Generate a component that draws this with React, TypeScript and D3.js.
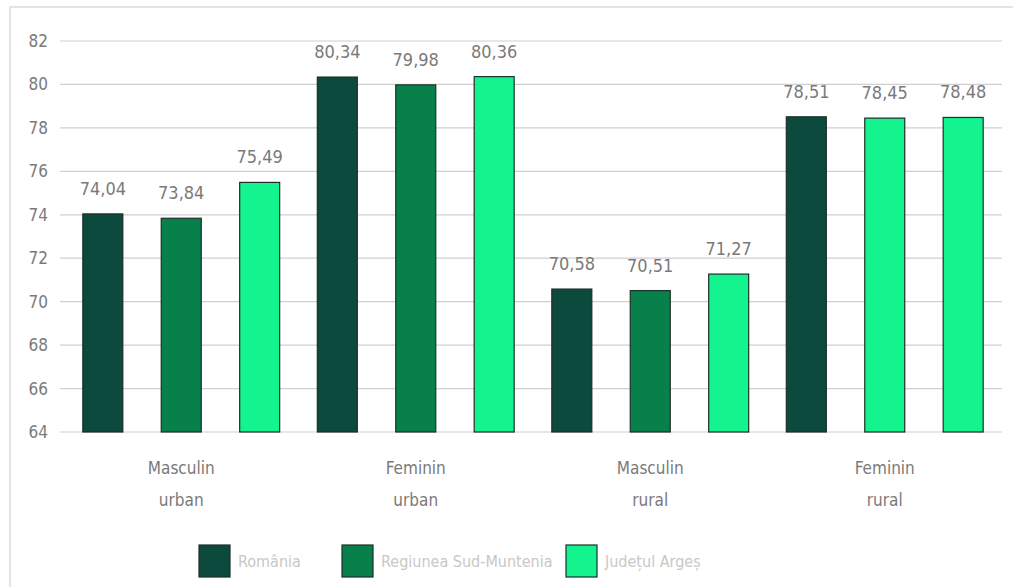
import React from "react";
import * as d3 from "d3";

const categories = [["Masculin", "urban"], ["Feminin", "urban"], ["Masculin", "rural"], ["Feminin", "rural"]];
const seriesNames = ["România", "Regiunea Sud-Muntenia", "Județul Argeș"];
const romania = [74.04, 80.34, 70.58, 78.51];
const sudMuntenia = [73.84, 79.98, 70.51, 78.45];
const arges = [75.49, 80.36, 71.27, 78.48];
const yTicks = [64, 66, 68, 70, 72, 74, 76, 78, 80, 82];
const seriesColors = ["#0b4a3c", "#08804c", "#14f48e"];
// the reference draws the Sud-Muntenia bar of "Feminin rural" in the Argeș colour
const colorOverrides: { cat: number; series: number; color: string }[] = [
  { cat: 3, series: 1, color: "#14f48e" },
];

const W = 1013;
const H = 587;
const FONT = "'Liberation Sans Narrow', 'DejaVu Sans Condensed', 'Open Sans', sans-serif";

export default function App() {
  const values = [romania, sudMuntenia, arges];
  const left = 64, right = 1002, top = 41, bottom = 432;
  const x0 = d3.scaleBand<number>().domain(d3.range(categories.length)).range([left, right]).padding(0);
  const x1 = d3
    .scaleBand<number>()
    .domain(d3.range(seriesNames.length))
    .range([0, x0.bandwidth()])
    .paddingInner(0.49)
    .paddingOuter(0.24);
  const y = d3.scaleLinear().domain([64, 82]).range([bottom, top]);
  const fmt = (v: number) => v.toFixed(2).replace(".", ",");

  const legendX = [199, 342, 566];

  return (
    <svg width={W} height={H} style={{ position: "absolute", left: 0, top: 0, background: "#fff" }} fontFamily={FONT}>
      <rect x={10} y={7} width={1010} height={600} fill="none" stroke="#dcdcdc" strokeWidth={1.5} />
      {yTicks.map((t) => (
        <g key={t}>
          <line x1={60} x2={right} y1={y(t)} y2={y(t)} stroke="#cfcfcf" strokeWidth={1.2} />
          <text x={48} y={y(t)} dy="0.35em" textAnchor="end" fontSize={17} fill="#7a7a7a">
            {t}
          </text>
        </g>
      ))}
      {categories.map((c, ci) => (
        <g key={ci} transform={`translate(${x0(ci)},0)`}>
          {seriesNames.map((s, si) => {
            const v = values[si][ci];
            const ov = colorOverrides.find((o) => o.cat === ci && o.series === si);
            const fill = ov ? ov.color : seriesColors[si];
            const bx = x1(si)!;
            const bw = x1.bandwidth();
            return (
              <g key={si}>
                <rect x={bx} y={y(v)} width={bw} height={y(64) - y(v)} fill={fill} stroke="#1e2e28" strokeWidth={1.2} />
                <text x={bx + bw / 2} y={y(v) - 19} textAnchor="middle" fontSize={18} fill="#7a7a7a">
                  {fmt(v)}
                </text>
              </g>
            );
          })}
          <text x={x0.bandwidth() / 2} y={474} textAnchor="middle" fontSize={17} fill="#7a7a7a">
            {c[0]}
          </text>
          <text x={x0.bandwidth() / 2} y={506} textAnchor="middle" fontSize={17} fill="#7a7a7a">
            {c[1]}
          </text>
        </g>
      ))}
      {seriesNames.map((s, si) => (
        <g key={s} transform={`translate(${legendX[si]},545)`}>
          <rect x={0} y={0} width={31} height={32} fill={seriesColors[si]} stroke="#1e2e28" strokeWidth={1.2} />
          <text x={39} y={16} dy="0.35em" fontSize={16} fill="#c8c8c8">
            {s}
          </text>
        </g>
      ))}
    </svg>
  );
}
